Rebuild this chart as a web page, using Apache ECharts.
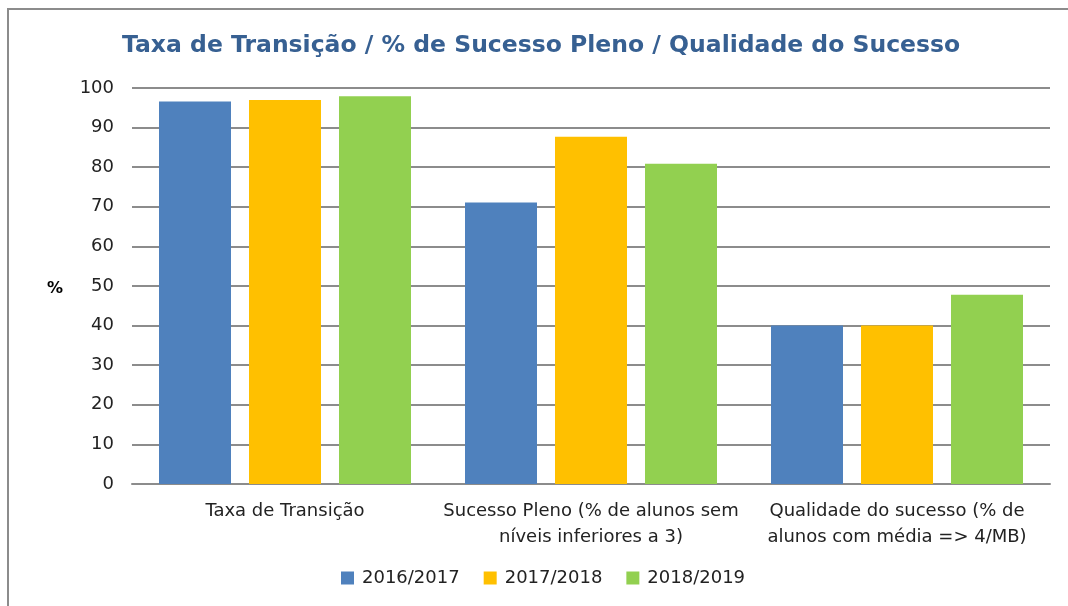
<!DOCTYPE html>
<html>
<head>
<meta charset="utf-8">
<script src="https://cdn.jsdelivr.net/npm/echarts@6/dist/echarts.min.js"></script>
<style>
html, body { margin: 0; padding: 0; background: #fff; }
#main { width: 1068px; height: 606px; }
</style>
</head>
<body>
<div id="main"></div>
<script>
var categories = ['Taxa de Transição', 'Sucesso Pleno (% de alunos sem\nníveis inferiores a 3)', 'Qualidade do sucesso (% de\nalunos com média => 4/MB)'];
var seriesNames = ['2016/2017', '2017/2018', '2018/2019'];
var vals1617 = [96.6, 71.1, 40.0];
var vals1718 = [97.0, 87.7, 40.0];
var vals1819 = [97.9, 80.9, 47.8];
var colors = ['#4F81BD', '#FFC000', '#92D050'];

var dom = document.getElementById("main");
var myChart = echarts.init(dom);
var option = null;
var font = '"DejaVu Sans", sans-serif';

function mkSeries(i, data) {
    return {
        name: seriesNames[i],
        type: 'bar',
        data: data,
        barWidth: 72,
        barGap: '25%',
        itemStyle: { color: colors[i] }
    };
}

option = {
    animation: false,
    color: colors,
    textStyle: { fontFamily: font },
    title: {
        text: 'Taxa de Transição / % de Sucesso Pleno / Qualidade do Sucesso',
        left: 117,
        top: 29,
        textStyle: { color: '#376092', fontSize: 23.5, fontWeight: 'bold', fontFamily: font }
    },
    graphic: [{
        type: 'rect',
        shape: { x: 8, y: 9, width: 1200, height: 800 },
        style: { fill: 'none', stroke: '#8c8c8c', lineWidth: 2 },
        silent: true
    }, {
        type: 'text',
        left: 47,
        top: 281,
        style: { text: '%', fontSize: 16, fontWeight: 'bold', fill: '#000', fontFamily: font }
    }],
    legend: {
        bottom: 14,
        left: 336,
        itemWidth: 13,
        itemHeight: 13,
        itemGap: 24,
        icon: 'rect',
        textStyle: { fontSize: 18, color: '#222', fontFamily: font, padding: [0, 0, 0, 3] },
        data: seriesNames
    },
    grid: { left: 132, right: 18, top: 88, bottom: 122 },
    xAxis: {
        type: 'category',
        data: categories,
        axisTick: { show: false },
        axisLine: { lineStyle: { color: '#8c8c8c', width: 2 } },
        axisLabel: { interval: 0, fontSize: 18, color: '#222', lineHeight: 26, margin: 14, fontFamily: font }
    },
    yAxis: {
        type: 'value',
        min: 0,
        max: 100,
        interval: 10,
        axisLine: { show: false },
        axisTick: { show: false },
        splitLine: { lineStyle: { color: '#8c8c8c', width: 2 } },
        axisLabel: { fontSize: 18, color: '#222', margin: 18, fontFamily: font }
    },
    series: [mkSeries(0, vals1617), mkSeries(1, vals1718), mkSeries(2, vals1819)]
};
if (option && typeof option === "object") {
    myChart.setOption(option, true);
}
</script>
</body>
</html>
